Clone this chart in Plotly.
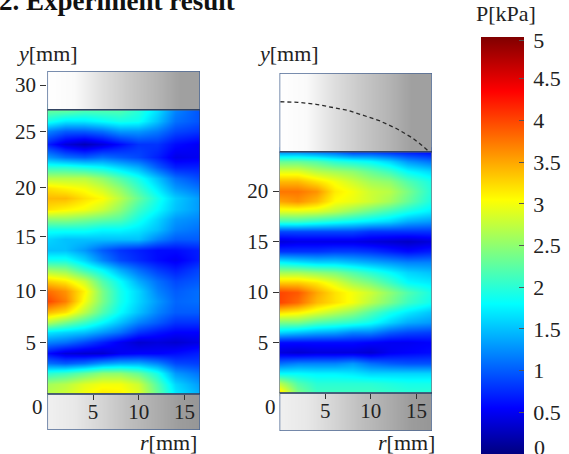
import plotly.graph_objects as go

R = [0, 2, 4, 6, 8, 10, 12, 14, 16.7]

Y_LEFT = [27.6, 26.5, 25.5, 24.3, 23, 22, 21, 20, 19, 18, 17, 16, 15, 14, 13, 12, 11, 10, 9, 8, 7, 6, 5, 4, 3, 2, 1, 0.1]
P_LEFT = [
    [2.3, 2.3, 2.2, 2.2, 2.2, 2.0, 1.65, 1.2, 0.95],
    [1.9, 1.7, 1.7, 1.8, 1.9, 1.85, 1.5, 1.1, 0.95],
    [1.2, 1.0, 1.0, 1.1, 1.3, 1.3, 1.15, 0.9, 0.8],
    [0.7, 0.4, 0.25, 0.4, 0.6, 0.8, 0.8, 0.6, 0.5],
    [1.3, 1.1, 1.0, 1.1, 1.0, 0.9, 0.7, 0.45, 0.5],
    [2.0, 2.0, 1.9, 1.8, 1.6, 1.4, 1.0, 0.7, 0.7],
    [2.7, 2.7, 2.7, 2.5, 2.2, 1.9, 1.5, 1.1, 0.9],
    [3.2, 3.1, 3.0, 2.8, 2.5, 2.1, 1.7, 1.3, 1.1],
    [3.4, 3.4, 3.2, 3.05, 2.7, 2.3, 1.9, 1.55, 1.3],
    [3.2, 3.1, 3.0, 2.8, 2.5, 2.1, 1.8, 1.5, 1.3],
    [2.5, 2.5, 2.4, 2.3, 2.2, 1.9, 1.6, 1.3, 1.2],
    [1.9, 1.9, 1.9, 1.8, 1.8, 1.7, 1.5, 1.2, 1.1],
    [1.6, 1.5, 1.5, 1.5, 1.5, 1.5, 1.2, 1.0, 1.0],
    [1.5, 1.5, 1.3, 1.0, 0.8, 0.7, 0.6, 0.6, 0.7],
    [1.9, 1.9, 1.6, 1.2, 0.9, 0.75, 0.6, 0.5, 0.7],
    [2.6, 2.5, 2.1, 1.8, 1.4, 1.1, 0.85, 0.7, 0.9],
    [3.3, 3.15, 2.8, 2.2, 1.8, 1.4, 1.1, 0.9, 1.0],
    [3.8, 3.6, 3.1, 2.4, 1.9, 1.6, 1.2, 1.0, 1.1],
    [4.0, 3.7, 3.0, 2.4, 1.9, 1.6, 1.3, 1.05, 1.1],
    [3.4, 3.2, 2.7, 2.2, 1.8, 1.5, 1.2, 1.0, 1.0],
    [2.7, 2.4, 2.1, 1.8, 1.5, 1.2, 1.0, 0.8, 0.8],
    [1.7, 1.6, 1.5, 1.3, 1.1, 0.8, 0.65, 0.55, 0.55],
    [1.2, 1.1, 0.9, 0.7, 0.5, 0.35, 0.4, 0.35, 0.45],
    [0.6, 0.4, 0.35, 0.35, 0.5, 0.55, 0.55, 0.6, 0.7],
    [1.1, 1.0, 1.1, 1.3, 1.4, 1.4, 1.2, 0.9, 0.85],
    [2.0, 2.1, 2.3, 2.5, 2.5, 2.3, 1.9, 1.3, 1.1],
    [2.6, 2.7, 2.9, 3.0, 3.0, 2.8, 2.2, 1.6, 1.3],
    [2.7, 2.8, 3.0, 3.15, 3.1, 2.9, 2.3, 1.7, 1.4],
]

Y_RIGHT = [23.9, 23, 22, 21, 20, 19, 18, 17, 16, 15, 14, 13, 12, 11, 10, 9, 8, 7, 6, 5, 4, 3, 2, 1, 0.1]
P_RIGHT = [
    [1.3, 1.3, 1.2, 1.1, 0.9, 0.9, 0.8, 0.7, 0.6],
    [2.3, 2.3, 2.2, 2.0, 1.9, 1.8, 1.6, 1.3, 1.1],
    [2.9, 2.9, 2.7, 2.6, 2.5, 2.3, 2.1, 1.8, 1.6],
    [3.4, 3.4, 3.2, 3.0, 2.8, 2.6, 2.5, 2.2, 1.9],
    [3.75, 3.75, 3.6, 3.15, 3.0, 2.8, 2.7, 2.4, 1.95],
    [3.5, 3.6, 3.4, 3.05, 2.95, 2.8, 2.6, 2.3, 1.9],
    [2.9, 2.9, 2.85, 2.7, 2.5, 2.3, 2.1, 1.9, 1.7],
    [2.1, 2.1, 2.0, 1.9, 1.8, 1.7, 1.6, 1.4, 1.3],
    [0.9, 0.9, 0.9, 0.9, 0.9, 0.8, 0.8, 0.8, 0.8],
    [0.4, 0.45, 0.45, 0.45, 0.45, 0.4, 0.35, 0.3, 0.4],
    [0.8, 0.8, 0.8, 0.85, 0.85, 0.8, 0.7, 0.6, 0.7],
    [1.8, 1.7, 1.6, 1.6, 1.5, 1.4, 1.3, 1.2, 1.2],
    [2.6, 2.6, 2.5, 2.4, 2.2, 2.0, 1.8, 1.6, 1.5],
    [3.3, 3.3, 3.15, 2.9, 2.6, 2.4, 2.1, 1.8, 1.7],
    [4.0, 3.9, 3.5, 3.2, 3.0, 2.8, 2.5, 2.2, 1.9],
    [4.0, 3.8, 3.4, 3.2, 3.0, 2.7, 2.4, 2.1, 1.85],
    [3.2, 3.1, 2.9, 2.7, 2.5, 2.2, 1.9, 1.7, 1.5],
    [2.4, 2.4, 2.2, 2.1, 2.0, 1.85, 1.6, 1.4, 1.3],
    [1.6, 1.5, 1.4, 1.35, 1.2, 1.2, 1.0, 0.9, 0.85],
    [0.6, 0.6, 0.6, 0.6, 0.6, 0.55, 0.5, 0.5, 0.55],
    [0.4, 0.35, 0.4, 0.4, 0.4, 0.35, 0.5, 0.55, 0.6],
    [1.1, 1.2, 1.2, 1.2, 1.3, 1.1, 1.0, 0.95, 0.95],
    [1.8, 1.8, 1.75, 1.75, 1.7, 1.6, 1.6, 1.6, 1.6],
    [2.7, 2.2, 2.0, 2.0, 2.0, 2.0, 1.95, 1.9, 1.9],
    [3.2, 2.4, 2.1, 2.1, 2.1, 2.1, 2.05, 2.0, 2.0],
]

# grey gradient of the rod blocks
GRAY_R = [0, 3, 6, 9, 12, 14.5, 16.7]
GRAY_TOP = [255, 250, 222, 200, 180, 160, 160]
GRAY_BOTTOM = [240, 232, 212, 190, 172, 156, 150]

DASH_R = [0.1, 2, 4, 5.6, 7.5, 9.2, 11, 12.8, 14.5, 15.5, 16.4]
DASH_Y = [28.85, 28.8, 28.6, 28.35, 28.0, 27.5, 26.95, 26.2, 25.3, 24.6, 23.9]

R_TICKS = [5, 10, 15]
Y_TICKS_LEFT = [30, 25.44, 20, 15.3, 10, 4.95]
Y_LABELS_LEFT = ["30", "25", "20", "15", "10", "5"]
Y_TICKS_RIGHT = [20, 15, 10, 5]
Y_LABELS_RIGHT = ["20", "15", "10", "5"]
CB_TICKS = [4.96, 4.5, 4, 3.5, 3, 2.5, 2, 1.5, 1, 0.5]
CB_LABELS = ["\u20095", "\u20094.5", "\u20094", "\u20093.5", "\u20093", "\u20092.5", "\u20092", "\u20091.5", "\u20091", "\u20090.5"]

W, H = 569, 454
FONT = "Liberation Serif"
BORDER = "#4d6894"


def px(x):
    return x / W


def py(y):
    return 1 - y / H


fig = go.Figure()

JET = [[0, "#000080"], [0.11, "#0000ff"], [0.36, "#00ffff"], [0.61, "#ffff00"],
       [0.87, "#ff0000"], [1, "#800000"]]

panels = [
    dict(xa="x", ya="y", xd=(47.3, 200), yd=(71, 430), yr=(-3.5, 31.36), top=27.6, Y=Y_LEFT, Z=P_LEFT,
         ticks=Y_TICKS_LEFT, labels=Y_LABELS_LEFT, base=393.5),
    dict(xa="x2", ya="y2", xd=(279.5, 432), yd=(73, 431), yr=(-3.76, 31.7), top=23.9, Y=Y_RIGHT, Z=P_RIGHT,
         ticks=Y_TICKS_RIGHT, labels=Y_LABELS_RIGHT, base=393),
]

shapes = []
for p in panels:
    fig.add_trace(go.Heatmap(x=R, y=p["Y"], z=p["Z"], coloraxis="coloraxis", zsmooth="best",
                             xaxis=p["xa"], yaxis=p["ya"], hoverinfo="skip"))
    for y0, y1, g in [(p["top"], p["yr"][1], GRAY_TOP), (p["yr"][0], 0, GRAY_BOTTOM)]:
        fig.add_trace(go.Heatmap(x=GRAY_R, y=[y0, (y0 + y1) / 2, y1], z=[g, g], coloraxis="coloraxis2",
                                 zsmooth="best", xaxis=p["xa"], yaxis=p["ya"], hoverinfo="skip"))
    rmax = 16.7
    for y0, y1 in [(p["top"], p["yr"][1]), (p["yr"][0], 0)]:
        shapes.append(dict(type="rect", xref=p["xa"], yref=p["ya"], x0=0, x1=rmax, y0=y0, y1=y1,
                           line=dict(color=BORDER, width=1.5), layer="above"))
    shapes.append(dict(type="rect", xref=p["xa"], yref=p["ya"], x0=0, x1=rmax, y0=0, y1=p["top"],
                       line=dict(color="#2c3a55", width=1), layer="above"))

fig.add_trace(go.Scatter(x=DASH_R, y=DASH_Y, mode="lines", xaxis="x2", yaxis="y2", showlegend=False,
                         line=dict(color="#2a2a2a", width=1.3, dash="4px,3px"), hoverinfo="skip"))

layout_axes = {}
for i, p in enumerate(panels):
    sx = "" if i == 0 else "2"
    layout_axes["xaxis" + sx] = dict(
        domain=[px(p["xd"][0]), px(p["xd"][1])], range=[0, 16.7], tickvals=R_TICKS,
        ticks="outside", ticklen=5, tickcolor="#333333", showgrid=False, zeroline=False, showline=False,
        anchor="free", position=py(p["base"]), ticklabelstandoff=-6,
        tickfont=dict(family=FONT, size=21, color="#222222"),
    )
    layout_axes["yaxis" + sx] = dict(
        domain=[py(p["yd"][1]), py(p["yd"][0])], range=list(p["yr"]), tickvals=p["ticks"], ticktext=p["labels"],
        ticks="outside", ticklen=6, tickcolor="#333333", showgrid=False, zeroline=False, showline=False,
        anchor="x" + sx, tickfont=dict(family=FONT, size=21, color="#222222"),
    )


def label(text, x, y, size=21, **kw):
    return dict(text=text, xref="paper", yref="paper", x=px(x), y=py(y), showarrow=False,
                xanchor="center", yanchor="middle", font=dict(family=FONT, size=size, color="#222222"), **kw)


annotations = [
    label("<i>y</i>[mm]", 47, 53, 22),
    label("<i>y</i>[mm]", 288, 53, 22),
    label("<i>r</i>[mm]", 168, 442, 22),
    label("<i>r</i>[mm]", 406, 442, 22),
    label("0", 37, 407),
    label("0", 270, 407),
    label("0", 539, 447, 22),
    label("P[kPa]", 506, 13, 22),
    dict(text="<b>2. Experiment result</b>", xref="paper", yref="paper", x=px(-3), y=py(1), showarrow=False,
         xanchor="left", yanchor="middle", font=dict(family=FONT, size=27, color="#111111")),
]

fig.update_layout(
    width=W, height=H, margin=dict(l=0, r=0, t=0, b=0), paper_bgcolor="white", plot_bgcolor="white",
    showlegend=False, shapes=shapes, annotations=annotations,
    coloraxis=dict(
        colorscale=JET, cmin=0, cmax=5,
        colorbar=dict(x=px(481), xanchor="left", xpad=0, ypad=0, y=py(37), yanchor="top", lenmode="pixels", len=417,
                      thicknessmode="pixels", thickness=43, outlinewidth=0, tickvals=CB_TICKS, ticktext=CB_LABELS,
                      ticks="inside", ticklen=5, tickcolor="#555555",
                      tickfont=dict(family=FONT, size=22, color="#222222")),
    ),
    coloraxis2=dict(colorscale=[[0, "#000000"], [1, "#ffffff"]], cmin=0, cmax=255, showscale=False),
    **layout_axes,
)

fig.write_html("out.html", config=dict(displayModeBar=False), post_script="document.body.style.margin='0';")
